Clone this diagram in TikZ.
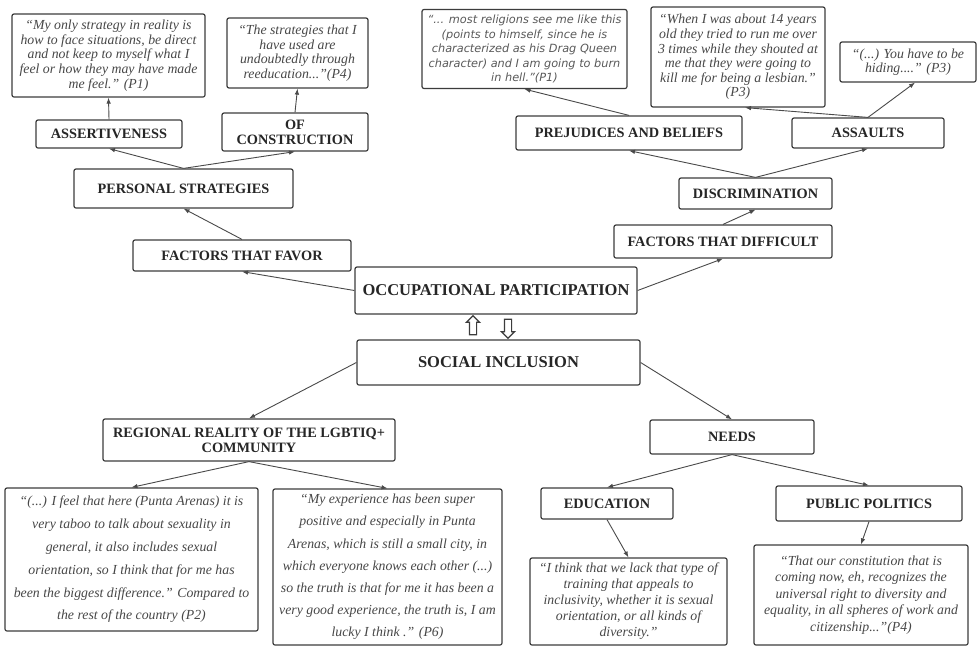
\documentclass[tikz,border=0pt]{standalone}
\usepackage{fontspec}
\setmainfont{Liberation Serif}
\newfontfamily\quotesans{DejaVu Sans}
\usetikzlibrary{arrows.meta,shapes.arrows}
\definecolor{boxgray}{HTML}{3C3C3C}
\definecolor{linegray}{HTML}{4A4A4A}
\begin{document}
\begin{tikzpicture}[x=1pt,y=-1pt,
    lbl/.style={draw=boxgray, line width=1.2pt, rounded corners=2pt, fill=white, inner sep=0pt, align=center,
        text=black!85, font=\bfseries\fontsize{14.3}{15}\selectfont},
    quote/.style={lbl, text=black!72, font=\itshape\fontsize{13.8}{14.6}\selectfont},
    size/.style 2 args={minimum width=#1pt, minimum height=#2pt},
    link/.style={-{Latex[length=6pt,width=4.5pt]}, draw=linegray, line width=0.9pt},
    blockarrow/.style={single arrow, draw=boxgray, fill=white, line width=1.2pt, inner sep=3pt,
        minimum height=19pt, single arrow head extend=3pt}]
    \useasboundingbox[fill=white] (0,0) rectangle (978,646);

    % Centro
    \node[lbl, size={282}{47}, font=\bfseries\fontsize{16.5}{18}\selectfont] (occ) at (496,290.5) {OCCUPATIONAL PARTICIPATION};
    \node[lbl, size={283}{45}, font=\bfseries\fontsize{16.5}{18}\selectfont] (soc) at (498.5,362.5) {SOCIAL INCLUSION};
    \node[blockarrow, shape border rotate=90] (up_arrow) at (473,327) {};
    \node[blockarrow, shape border rotate=270] (down_arrow) at (508,327) {};

    % Fattori che favoriscono
    \node[lbl, size={218}{31}] (favor) at (242,255.5) {FACTORS THAT FAVOR};
    \node[lbl, size={219}{39}] (pers) at (183.5,188.5) {PERSONAL STRATEGIES};
    \node[lbl, size={146}{28}] (assert) at (109,134) {ASSERTIVENESS};
    \node[lbl, size={146}{38}] (ofc) at (295,132) {OF\\CONSTRUCTION};
    \node[quote, size={193}{83}] (q_assert) at (108.5,55.5) {“My only strategy in reality is\\how to face situations, be direct\\and not keep to myself what I\\feel or how they may have made\\me feel.” (P1)};
    \node[quote, size={141}{70}] (q_ofc) at (297.5,53) {“The strategies that I\\have used are\\undoubtedly through\\reeducation...”(P4)};

    % Fattori che ostacolano
    \node[lbl, size={218}{33}] (diff) at (723,241.5) {FACTORS THAT DIFFICULT};
    \node[lbl, size={153}{31}] (disc) at (755.5,193.5) {DISCRIMINATION};
    \node[lbl, size={226}{34}] (prej) at (629,133) {PREJUDICES AND BELIEFS};
    \node[lbl, size={152}{30}] (assa) at (868,133) {ASSAULTS};
    \node[quote, size={205}{79}, text=black!65, font=\quotesans\itshape\fontsize{11.3}{14.5}\selectfont] (q_prej) at (524.5,49) {“... most religions see me like this\\(points to himself, since he is\\characterized as his Drag Queen\\character) and I am going to burn\\in hell.”(P1)};
    \node[quote, size={174}{100}] (q_assa) at (738,57) {“When I was about 14 years\\old they tried to run me over\\3 times while they shouted at\\me that they were going to\\kill me for being a lesbian.”\\(P3)};
    \node[quote, size={136}{40}] (q_hiding) at (908,62) {“(...) You have to be\\hiding....” (P3)};

    % Inclusione sociale
    \node[lbl, size={292}{42}] (reg) at (249,440) {REGIONAL REALITY OF THE LGBTIQ+\\COMMUNITY};
    \node[lbl, size={164}{34}] (needs) at (732,437) {NEEDS};
    \node[lbl, size={132}{31}] (edu) at (607,503.5) {EDUCATION};
    \node[lbl, size={186}{35}] (pub) at (869,503.5) {PUBLIC POLITICS};
    \node[quote, size={253}{143}, font=\itshape\fontsize{13.8}{22.8}\selectfont] (q_reg_a) at (131.5,559.5) {“(...) I feel that here (Punta Arenas) it is\\very taboo to talk about sexuality in\\general, it also includes sexual\\orientation, so I think that for me has\\been the biggest difference.” Compared to\\the rest of the country (P2)};
    \node[quote, size={229}{156}, font=\itshape\fontsize{13.8}{22.2}\selectfont] (q_reg_b) at (387.5,567) {“My experience has been super\\positive and especially in Punta\\Arenas, which is still a small city, in\\which everyone knows each other (...)\\so the truth is that for me it has been a\\very good experience, the truth is, I am\\lucky I think .” (P6)};
    \node[quote, size={197}{87}, font=\itshape\fontsize{13.8}{16}\selectfont] (q_edu) at (628.5,601.5) {“I think that we lack that type of\\training that appeals to\\inclusivity, whether it is sexual\\orientation, or all kinds of\\diversity.”};
    \node[quote, size={214}{100}, font=\itshape\fontsize{13.8}{16.5}\selectfont] (q_pub) at (861,595) {“That our constitution that is\\coming now, eh, recognizes the\\universal right to diversity and\\equality, in all spheres of work and\\citizenship...”(P4)};

    % Frecce
    \draw[link] (occ.west) -- (favor.south);
    \draw[link] (favor.north) -- (pers.south);
    \draw[link] (pers.north) -- (assert.south);
    \draw[link] (pers.north) -- (ofc.south);
    \draw[link] (assert.north) -- (q_assert.south);
    \draw[link] (ofc.north) -- (q_ofc.south);
    \draw[link] (occ.east) -- (diff.south);
    \draw[link] (diff.north) -- (disc.south);
    \draw[link] (disc.north) -- (prej.south);
    \draw[link] (disc.north) -- (assa.south);
    \draw[link] (prej.north) -- (q_prej.south);
    \draw[link] (assa.north) -- ([xshift=7pt]q_assa.south);
    \draw[link] (assa.north) -- ([xshift=7pt]q_hiding.south);
    \draw[link] (soc.west) -- (reg.north);
    \draw[link] (soc.east) -- (needs.north);
    \draw[link] (reg.south) -- (q_reg_a.north);
    \draw[link] (reg.south) -- (q_reg_b.north);
    \draw[link] (needs.south) -- (edu.north);
    \draw[link] (needs.south) -- (pub.north);
    \draw[link] (edu.south) -- (q_edu.north);
    \draw[link] (pub.south) -- (q_pub.north);
\end{tikzpicture}
\end{document}
